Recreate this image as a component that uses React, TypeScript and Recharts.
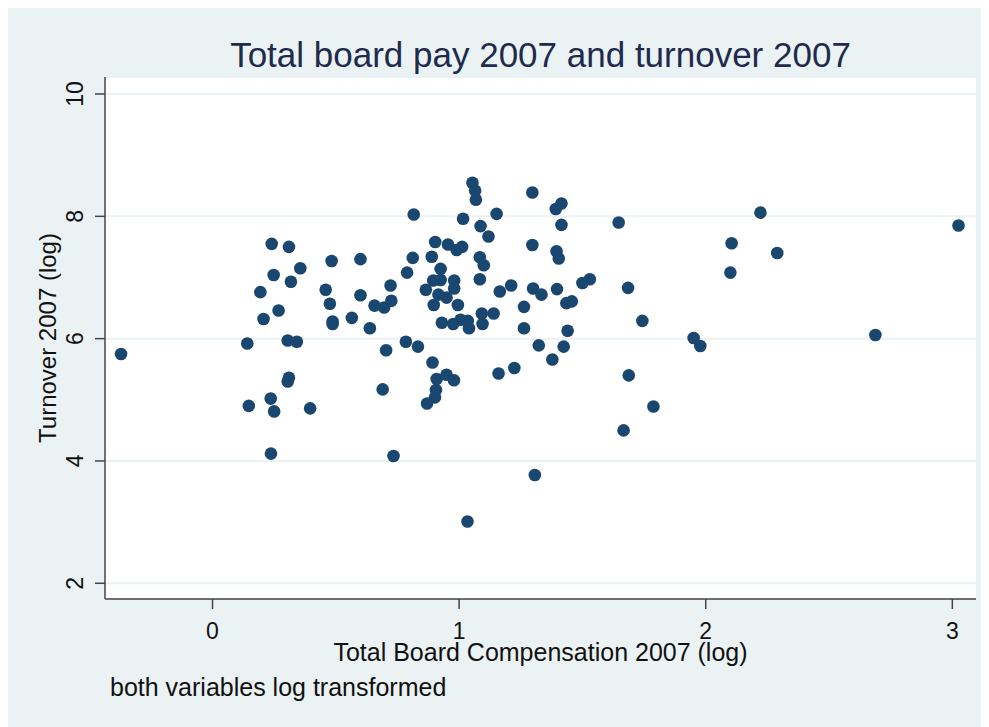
import { CartesianGrid, Scatter, ScatterChart, XAxis, YAxis } from "recharts";

// log total board compensation 2007 (x) and log turnover 2007 (y)
const compensation = [
  -0.371, 0.24, 0.31, 0.356, 0.483, 0.248, 0.318, 0.194, 0.459, 0.476, 0.268, 0.207, 0.487, 0.487,
  0.141, 0.305, 0.342, 0.31, 0.305, 0.236, 0.147, 0.25, 0.396, 0.237,
  1.054, 1.065, 1.068, 1.297, 1.415, 1.392, 0.816, 1.152, 1.016, 1.087, 1.119, 1.415, 0.903, 0.955,
  0.99, 1.012, 1.297, 0.6, 0.812, 0.889, 1.084, 1.1, 1.395, 1.404, 0.789, 0.925, 0.895, 0.925, 0.98,
  0.98, 0.722, 0.6, 1.084, 1.211, 1.165, 0.865, 0.916, 0.949, 0.897, 0.995, 0.657, 0.696, 0.725,
  0.565, 0.638, 0.93, 0.976, 1.006, 1.035, 1.04, 1.092, 1.095, 1.14, 1.263, 1.263, 1.3, 1.334, 1.397,
  1.44, 0.704, 0.784, 0.833, 0.892, 1.323, 1.378, 1.424, 1.16, 1.224, 0.69, 0.909, 0.949, 0.979,
  0.906, 0.902, 0.87, 0.734, 1.307, 1.034,
  1.647, 1.5, 1.53, 1.685, 1.435, 1.457, 1.743, 1.951, 1.978, 1.688, 1.788, 1.667,
  2.222, 2.105, 2.29, 2.1, 3.025, 2.688,
];
const turnover = [
  5.75, 7.55, 7.5, 7.15, 7.27, 7.04, 6.93, 6.76, 6.8, 6.57, 6.46, 6.32, 6.28, 6.24,
  5.92, 5.97, 5.95, 5.36, 5.3, 5.02, 4.9, 4.81, 4.86, 4.12,
  8.55, 8.42, 8.27, 8.39, 8.21, 8.12, 8.03, 8.04, 7.96, 7.84, 7.67, 7.86, 7.58, 7.54,
  7.45, 7.5, 7.53, 7.3, 7.32, 7.34, 7.33, 7.2, 7.43, 7.31, 7.08, 7.14, 6.95, 6.96, 6.95,
  6.82, 6.87, 6.71, 6.97, 6.87, 6.77, 6.8, 6.72, 6.67, 6.55, 6.55, 6.54, 6.51, 6.62,
  6.34, 6.17, 6.26, 6.24, 6.31, 6.29, 6.17, 6.41, 6.24, 6.41, 6.52, 6.17, 6.82, 6.72, 6.81,
  6.13, 5.81, 5.95, 5.87, 5.61, 5.89, 5.66, 5.87, 5.43, 5.52, 5.17, 5.34, 5.41, 5.32,
  5.16, 5.04, 4.94, 4.08, 3.77, 3.01,
  7.9, 6.91, 6.97, 6.83, 6.58, 6.61, 6.29, 6.01, 5.88, 5.4, 4.89, 4.5,
  8.06, 7.56, 7.4, 7.08, 7.85, 6.06,
];
const xTicks = [0, 1, 2, 3];
const yTicks = [2, 4, 6, 8, 10];

const data = compensation.map((x, i) => ({ x, y: turnover[i] }));

const font = "'Liberation Sans', Arial, sans-serif";
const bg = "#EAF2F3";
const navy = "#1A476F";

function XTick({ x, y, payload }: any) {
  return (
    <text x={x} y={y} dy={28} textAnchor="middle" fontSize={23} fontFamily={font} fill="#111">
      {payload.value}
    </text>
  );
}

function YTick({ x, y, payload }: any) {
  return (
    <text transform={`translate(${x - 10}, ${y}) rotate(-90)`} textAnchor="middle" fontSize={23} fontFamily={font} fill="#111">
      {payload.value}
    </text>
  );
}

const dot = (p: any) => <circle cx={p.cx} cy={p.cy} r={6.3} fill={navy} />;

export default function App() {
  return (
    <div style={{ position: "relative", margin: "-1px 0 0 -1px", width: 982, height: 720, background: bg, fontFamily: font }}>
      <div style={{ position: "absolute", left: 98, width: 871, top: 30, textAlign: "center", fontSize: 35, lineHeight: "35px", color: "#1e2a4e" }}>
        Total board pay 2007 and turnover 2007
      </div>
      <ScatterChart width={982} height={720} margin={{ top: 70, right: 13, bottom: 88, left: 38 }}>
        <CartesianGrid vertical={false} stroke={bg} strokeWidth={2} fill="#fff" />
        <XAxis
          type="number"
          dataKey="x"
          domain={[-0.436, 3.096]}
          ticks={xTicks}
          allowDataOverflow
          height={40}
          tickSize={10}
          tick={<XTick />}
          stroke="#444"
          strokeWidth={1.5}
        />
        <YAxis
          type="number"
          dataKey="y"
          domain={[1.743, 10.278]}
          ticks={yTicks}
          allowDataOverflow
          width={60}
          tickSize={10}
          tick={<YTick />}
          stroke="#444"
          strokeWidth={1.5}
        />
        <Scatter data={data} shape={dot} isAnimationActive={false} />
      </ScatterChart>
      <div style={{ position: "absolute", left: 98, width: 871, top: 633, textAlign: "center", fontSize: 25, lineHeight: "25px", color: "#111" }}>
        Total Board Compensation 2007 (log)
      </div>
      <div style={{ position: "absolute", left: 103, top: 668, fontSize: 25, lineHeight: "25px", color: "#111" }}>
        both variables log transformed
      </div>
      <div
        style={{
          position: "absolute",
          left: 41 - 150,
          width: 300,
          top: 331 - 12,
          textAlign: "center",
          fontSize: 24,
          lineHeight: "24px",
          color: "#111",
          transform: "rotate(-90deg)",
        }}
      >
        Turnover 2007 (log)
      </div>
    </div>
  );
}
